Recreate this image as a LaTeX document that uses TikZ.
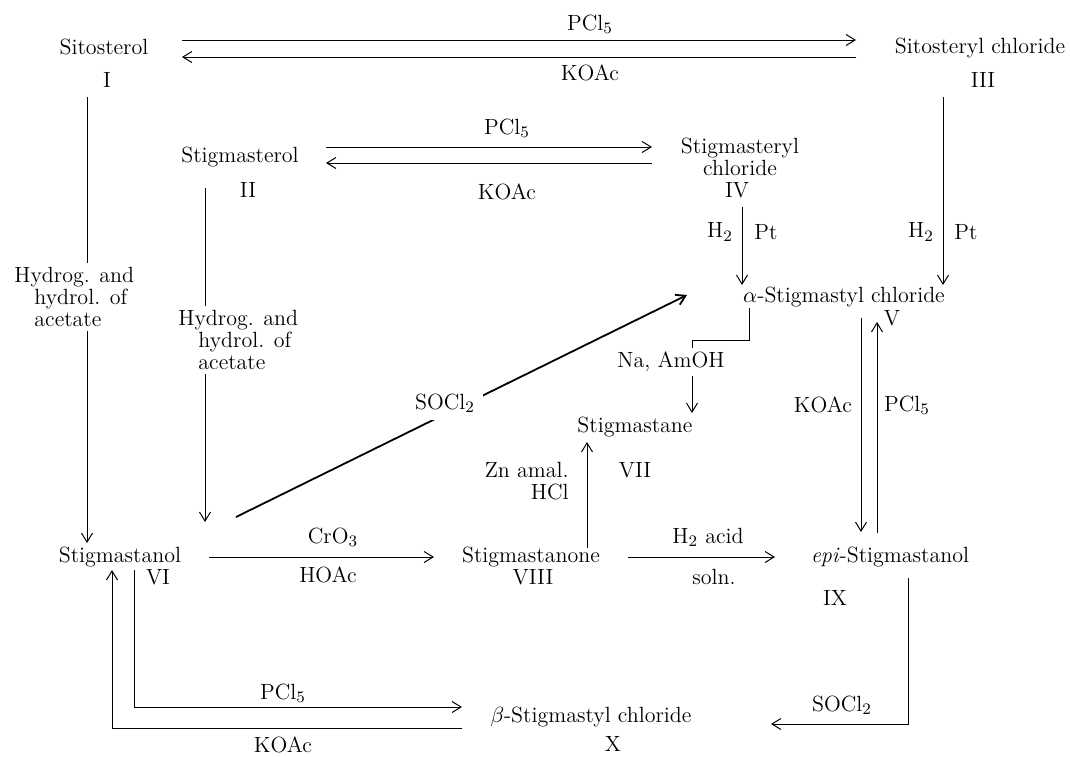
\documentclass[tikz,border=0pt]{standalone}
\usetikzlibrary{arrows.meta}
\tikzset{
  lbl/.style={inner sep=1pt, font=\fontsize{11}{11}\selectfont},
  cover/.style={lbl, fill=white, inner sep=2pt},
  ln/.style={line width=0.5pt},
  arr/.style={ln, -{Straight Barb[length=4.5pt,width=5.5pt]}},
  bold/.style={line width=0.9pt}
}
\begin{document}
\begin{tikzpicture}[x=0.5pt,y=-0.5pt]
\useasboundingbox (0,0) rectangle (1070,756);
% compounds
\node[lbl] (sito) at (104,47) {Sitosterol};
\node[lbl] (sitoN) at (107,80) {I};
\node[lbl] (sitocl) at (980,48) {Sitosteryl chloride};
\node[lbl] (sitoclN) at (983,80) {III};
\node[lbl] (stig) at (240,157) {Stigmasterol};
\node[lbl] (stigN) at (248,190) {II};
\node[lbl,align=center] (stigcl) at (740,157) {Stigmasteryl\\chloride};
\node[lbl] (stigclN) at (737,190) {IV};
\node[lbl] (acl) at (844,297) {$\alpha$-Stigmastyl chloride};
\node[lbl] (aclN) at (892,318) {V};
\node[lbl] (stane) at (635,427) {Stigmastane};
\node[lbl] (staneN) at (635,470) {VII};
\node[lbl] (stanol) at (120,557) {Stigmastanol};
\node[lbl] (stanolN) at (158,577) {VI};
\node[lbl] (stanone) at (531,557) {Stigmastanone};
\node[lbl] (stanoneN) at (533,577) {VIII};
\node[lbl] (epi) at (890,557) {\textit{epi}-Stigmastanol};
\node[lbl] (epiN) at (835,598) {IX};
\node[lbl] (bcl) at (591,717) {$\beta$-Stigmastyl chloride};
\node[lbl] (bclN) at (613,744) {X};
% connector end points
\coordinate (t1a) at (182,40); \coordinate (t1b) at (856,40);
\coordinate (t2a) at (856,57); \coordinate (t2b) at (182,57);
\coordinate (m1a) at (326,147); \coordinate (m1b) at (652,147);
\coordinate (m2a) at (652,163); \coordinate (m2b) at (326,163);
\coordinate (la) at (87,97); \coordinate (lb) at (87,543);
\coordinate (ma) at (205,188); \coordinate (mb) at (205,522);
\coordinate (ra) at (943,97); \coordinate (rb) at (943,285);
\coordinate (iva) at (742,207); \coordinate (ivb) at (742,285);
\coordinate (da) at (236,517); \coordinate (db) at (687,295);
\coordinate (na) at (749,308); \coordinate (nb) at (692,413);
\coordinate (za) at (587,548); \coordinate (zb) at (587,442);
\coordinate (ka) at (861,318); \coordinate (kb) at (861,532);
\coordinate (pa) at (877,533); \coordinate (pb) at (877,322);
\coordinate (ca) at (209,557); \coordinate (cb) at (434,557);
\coordinate (ha) at (628,557); \coordinate (hb) at (775,557);
\coordinate (sa) at (908,578); \coordinate (sb) at (771,724);
\coordinate (ba) at (134,570); \coordinate (bb) at (462,707);
\coordinate (ka2) at (462,728); \coordinate (kc) at (112,728); \coordinate (kb2) at (112,570);
% connectors
\draw[arr] (t1a) -- (t1b);
\draw[arr] (t2a) -- (t2b);
\draw[arr] (m1a) -- (m1b);
\draw[arr] (m2a) -- (m2b);
\draw[arr] (la) -- (lb);
\draw[arr] (ma) -- (mb);
\draw[arr] (ra) -- (rb);
\draw[arr] (iva) -- (ivb);
\draw[arr,bold] (da) -- (db);
\draw[arr] (na) |- (692,340) -- (nb);
\draw[arr] (za) -- (zb);
\draw[arr] (ka) -- (kb);
\draw[arr] (pa) -- (pb);
\draw[arr] (ca) -- (cb);
\draw[arr] (ha) -- (hb);
\draw[arr] (sa) |- (sb);
\draw[arr] (ba) |- (bb);
\draw[arr] (ka2) -- (kc) -- (kb2);
% reagents
\node[lbl] (r1) at (590,24) {PCl$_5$};
\node[lbl] (r2) at (590,73) {KOAc};
\node[lbl] (r3) at (507,128) {PCl$_5$};
\node[lbl] (r4) at (507,192) {KOAc};
\node[cover,anchor=west,align=left] (r5) at (10,297) {Hydrog. and\\\hspace*{10pt}hydrol. of\\\hspace*{10pt}acetate};
\node[cover,anchor=west,align=left] (r6) at (174,340) {Hydrog. and\\\hspace*{10pt}hydrol. of\\\hspace*{10pt}acetate};
\node[lbl] (r7a) at (720,232) {H$_2$};
\node[lbl] (r7b) at (766,232) {Pt};
\node[lbl] (r8a) at (921,232) {H$_2$};
\node[lbl] (r8b) at (966,232) {Pt};
\node[cover, inner sep=4pt] (r9) at (445,403) {SOCl$_2$};
\node[cover] (r10) at (671,362) {Na, AmOH};
\node[lbl,align=right,anchor=east] (r11) at (571,481) {Zn amal.\\HCl};
\node[lbl] (r12) at (823,405) {KOAc};
\node[lbl] (r13) at (907,405) {PCl$_5$};
\node[lbl] (r14) at (333,537) {CrO$_3$};
\node[lbl] (r15) at (328,575) {HOAc};
\node[lbl] (r16) at (708,537) {H$_2$ acid};
\node[lbl] (r17) at (714,577) {soln.};
\node[lbl] (r18) at (283,693) {PCl$_5$};
\node[lbl] (r19) at (283,745) {KOAc};
\node[lbl] (r20) at (842,705) {SOCl$_2$};
\end{tikzpicture}
\end{document}
